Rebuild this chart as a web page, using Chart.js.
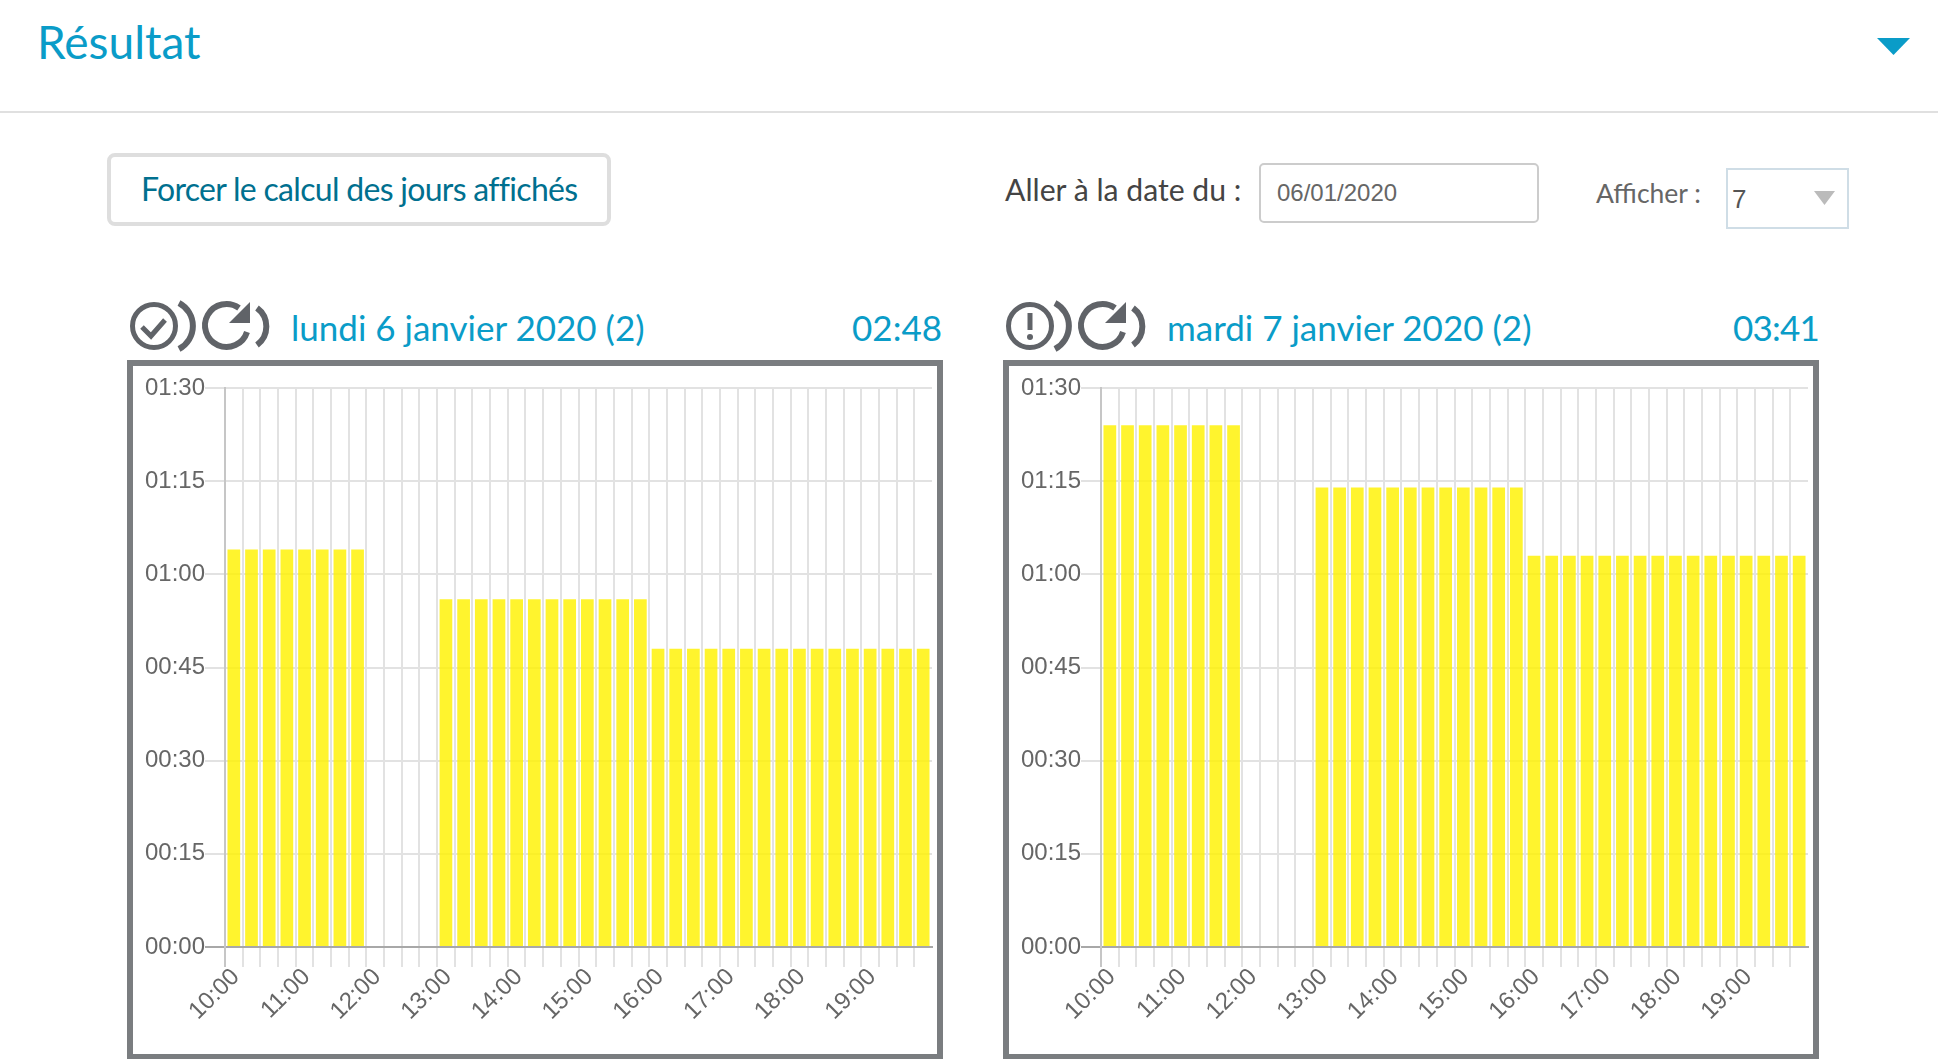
<!DOCTYPE html>
<html lang="fr">
<head>
<meta charset="utf-8">
<title>Résultat</title>
<script src="https://cdn.jsdelivr.net/npm/chart.js@4"></script>
<style>
  html, body { margin: 0; padding: 0; background: #fff; }
  body { position: relative; width: 1938px; height: 1059px; overflow: hidden; font-family: Lato, sans-serif; }
  .abs { position: absolute; white-space: nowrap; line-height: 1; }
  .blue { color: #0a9cc8; }
  .rule { position: absolute; left: 0; top: 111px; width: 1938px; height: 2px; background: #e0e0e0; }
  .btn { position: absolute; left: 107px; top: 153px; width: 496px; height: 65px; border: 4px solid #dedede; border-radius: 8px; }
  .input { position: absolute; left: 1259px; top: 163px; width: 276px; height: 56px; border: 2px solid #cccccc; border-radius: 5px; }
  .select { position: absolute; left: 1726px; top: 168px; width: 119px; height: 57px; border: 2px solid #cfdde6; }
  .frame { position: absolute; top: 360px; width: 804px; height: 688px; border: 6px solid #7a7d80; border-bottom-width: 5px; background: #fff; }
  .frame canvas { display: block; }
  svg { position: absolute; overflow: visible; }
</style>
</head>
<body>

<div class="abs blue" style="left:37px;top:19px;font-size:46px;">Résultat</div>
<svg style="left:1877px;top:38px" width="33" height="17"><path d="M0 0H33L16.5 17Z" fill="#0a9cc8"/></svg>
<div class="rule"></div>

<div class="btn"></div>
<div class="abs" style="left:141px;top:173px;font-size:32px;letter-spacing:-0.7px;color:#00708f;">Forcer le calcul des jours affichés</div>

<div class="abs" style="left:1005px;top:174px;font-size:30.2px;color:#444;">Aller à la date du :</div>
<div class="input"></div>
<div class="abs" style="left:1277px;top:179px;font:24px 'Liberation Sans';color:#666;">06/01/2020</div>
<div class="abs" style="left:1596px;top:180px;font-size:26.5px;color:#666;">Afficher :</div>
<div class="select"></div>
<div class="abs" style="left:1732px;top:184px;font:26px 'Liberation Sans';color:#555;">7</div>
<svg style="left:1814px;top:191px" width="21" height="14"><path d="M0 0H21L10.5 14Z" fill="#bbbbbb"/></svg>

<svg id="iconsA" style="left:127px;top:300px" width="150" height="54"></svg>
<div class="abs blue" style="left:291px;top:310px;font-size:35px;">lundi 6 janvier 2020 (2)</div>
<div class="abs blue" style="right:996px;top:310px;font-size:35px;">02:48</div>
<div class="frame" style="left:127px"><canvas id="chartA" width="804" height="688"></canvas></div>

<svg id="iconsB" style="left:1003px;top:300px" width="150" height="54"></svg>
<div class="abs blue" style="left:1167px;top:310px;font-size:35px;">mardi 7 janvier 2020 (2)</div>
<div class="abs blue" style="right:119px;top:310px;font-size:35px;letter-spacing:-0.8px;">03:41</div>
<div class="frame" style="left:1003px"><canvas id="chartB" width="804" height="688"></canvas></div>

<script>
const quarters = [
  "10:00", "10:15", "10:30", "10:45", "11:00", "11:15", "11:30", "11:45",
  "12:00", "12:15", "12:30", "12:45", "13:00", "13:15", "13:30", "13:45",
  "14:00", "14:15", "14:30", "14:45", "15:00", "15:15", "15:30", "15:45",
  "16:00", "16:15", "16:30", "16:45", "17:00", "17:15", "17:30", "17:45",
  "18:00", "18:15", "18:30", "18:45", "19:00", "19:15", "19:30", "19:45"
];

// minutes per quarter of an hour
const mondayMinutes = [
  64, 64, 64, 64, 64, 64, 64, 64,
  0, 0, 0, 0,
  56, 56, 56, 56, 56, 56, 56, 56, 56, 56, 56, 56,
  48, 48, 48, 48, 48, 48, 48, 48, 48, 48, 48, 48, 48, 48, 48, 48
];
const tuesdayMinutes = [
  84, 84, 84, 84, 84, 84, 84, 84,
  0, 0, 0, 0,
  74, 74, 74, 74, 74, 74, 74, 74, 74, 74, 74, 74,
  63, 63, 63, 63, 63, 63, 63, 63, 63, 63, 63, 63, 63, 63, 63, 63
];

const yMax = 90;
const yStep = 15;

function hhmm(min) {
  const h = Math.floor(min / 60);
  const m = min % 60;
  return String(h).padStart(2, "0") + ":" + String(m).padStart(2, "0");
}

function drawDay(id, values) {
  new Chart(document.getElementById(id), {
    type: "bar",
    data: {
      labels: quarters,
      datasets: [{ data: values, backgroundColor: "rgba(255,241,0,0.82)", borderWidth: 0 }]
    },
    options: {
      responsive: false,
      animation: false,
      layout: { padding: { top: 22, right: 5, left: 0, bottom: 0 } },
      plugins: { legend: { display: false }, tooltip: { enabled: false } },
      scales: {
        x: {
          grid: {
            lineWidth: 2,
            tickLength: 20,
            // first line is darker; the closing line has no tick, so no index
            color: c => {
              if (c.index === undefined) return "rgba(0,0,0,0)";
              return c.index === 0 ? "#c6c6c6" : "#e2e2e2";
            }
          },
          border: { color: "#a8a8a8", width: 2 },
          ticks: {
            autoSkip: false,
            maxRotation: 45,
            minRotation: 45,
            padding: -4,
            labelOffset: 2,
            color: "#666",
            font: { family: "'Liberation Sans'", size: 24 },
            callback: function (v) {
              const label = this.getLabelForValue(v);
              return label.endsWith(":00") ? label : "";
            }
          },
          // the blank last label must not eat into the plot width
          afterFit: s => { s.height = 107; s.paddingRight = 0; }
        },
        y: {
          min: 0,
          max: yMax,
          grid: {
            lineWidth: 2,
            tickLength: 20,
            color: c => c.tick.value === 0 ? "#a8a8a8" : "#e2e2e2"
          },
          border: { color: "#c6c6c6", width: 2 },
          ticks: {
            stepSize: yStep,
            padding: 0,
            color: "#666",
            font: { family: "'Liberation Sans'", size: 24 },
            callback: v => hhmm(v)
          },
          afterFit: s => { s.width = 92; }
        }
      }
    }
  });
}

drawDay("chartA", mondayMinutes);
drawDay("chartB", tuesdayMinutes);

// status and refresh icons above each chart
const arcs = `
  <path d="M52 3 A26 26 0 0 1 52 49" fill="none" stroke="#606368" stroke-width="6"/>
  <path d="M120 32 A21.5 21.5 0 1 1 112 8" fill="none" stroke="#606368" stroke-width="6"/>
  <path d="M123 2 V23 H102 Z" fill="#606368"/>
  <path d="M130 8 A23 23 0 0 1 130 45" fill="none" stroke="#606368" stroke-width="6"/>`;
const tick = `<circle cx="27" cy="26" r="21.5" fill="none" stroke="#606368" stroke-width="5"/>
  <path d="M15 27 L24 36 L38 20" fill="none" stroke="#606368" stroke-width="5"/>`;
const warn = `<circle cx="27" cy="26" r="21.5" fill="none" stroke="#606368" stroke-width="5"/>
  <path d="M27 13 V30" stroke="#606368" stroke-width="5"/><circle cx="27" cy="37" r="3" fill="#606368"/>`;
document.getElementById("iconsA").innerHTML = tick + arcs;
document.getElementById("iconsB").innerHTML = warn + arcs;
</script>
</body>
</html>
